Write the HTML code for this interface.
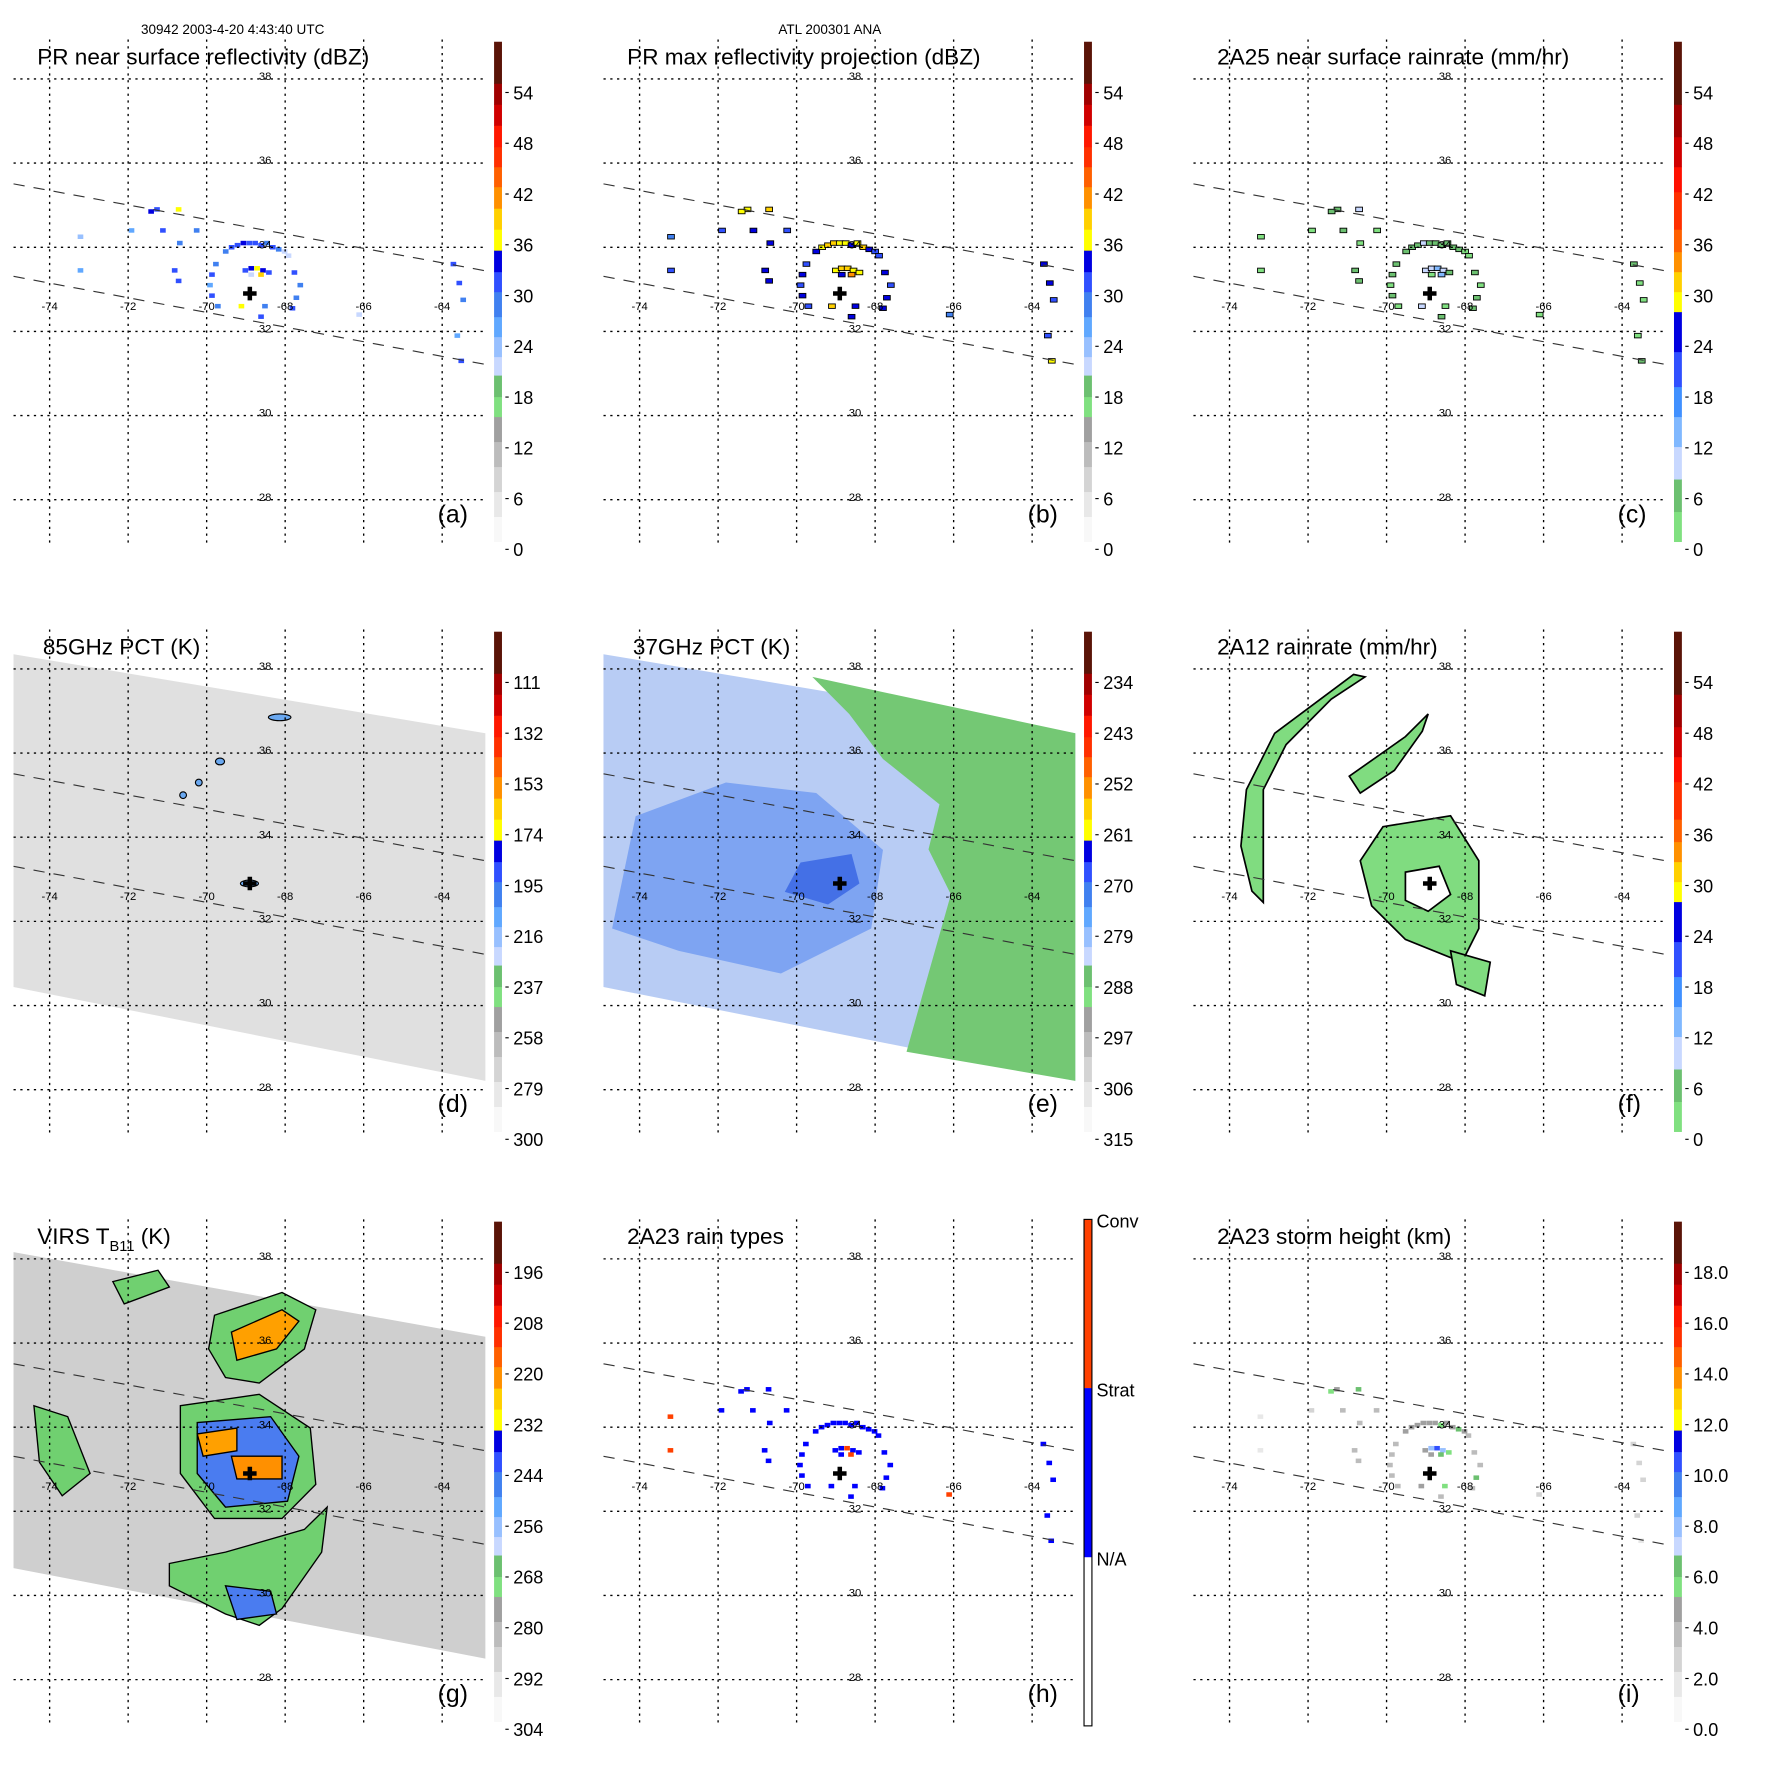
<!DOCTYPE html>
<html><head><meta charset="utf-8"><title>TRMM overpass panels</title>
<style>
html,body{margin:0;padding:0;background:#fff;}
svg{display:block;font-family:"Liberation Sans",sans-serif;}
</style></head>
<body>
<svg id="fig" xmlns="http://www.w3.org/2000/svg" width="1771" height="1771" viewBox="0 0 1570 1570">
<rect x="0" y="0" width="1570" height="1570" fill="#fff"/>
<text x="125" y="30" font-size="12">30942 2003-4-20 4:43:40 UTC</text>
<text x="690" y="30" font-size="12">ATL 200301 ANA</text>
</svg>
<script>
// ---- data ----
const lonTicks = [-74,-72,-70,-68,-66,-64];
const latTicks = [38,36,34,32,30,28];
const stormCenter = [-68.9, 32.9];
const cellLon = [-69.5,-69.35,-69.2,-69.05,-68.9,-68.75,-68.6,-68.45,-68.3,-68.15,-68.0,-67.9,
 -69.0,-68.85,-68.7,-68.55,-68.4,-68.85,-68.6,
 -69.75,-69.85,-69.9,-69.85,-69.7,
 -67.75,-67.6,-67.7,-67.8,
 -69.1,-68.6,-68.5,
 -71.25,-71.1,-70.67,-70.8,-70.24,-71.4,-71.9,-73.2,-73.2,-70.7,-70.7,
 -63.7,-63.55,-63.45,-66.1,-63.5,-63.6];
const cellLat = [33.9,34.0,34.05,34.1,34.1,34.1,34.05,34.1,34.0,33.95,33.9,33.8,
 33.45,33.5,33.5,33.45,33.4,33.35,33.35,
 33.6,33.35,33.1,32.85,32.6,
 33.4,33.1,32.8,32.55,
 32.6,32.35,32.6,
 34.9,34.4,34.1,33.45,34.4,34.85,34.4,34.25,33.45,33.2,34.9,
 33.6,33.15,32.75,32.4,31.3,31.9];
const cellDbz = [28,31,30,33,32,31,30,29,32,28,20,22, 32,34,37,33,30,20,38, 28,31,26,30,27, 30,27,29,31, 36,30,28, 32,30,28,31,29,33,26,24,25,31,37, 31,30,29,20,32,26];
const cellMaxDbz = [33,36,38,39,37,35,34,36,38,33,30,30, 36,38,40,37,35,34,41, 32,34,31,33,32, 34,32,33,34, 38,34,33, 35,34,33,34,32,36,31,29,30,34,38, 34,33,32,28,35,30];
const cellRain = [4,6,5,8,7,5,4,5,7,4,2,2, 9,10,12,8,6,3,14, 4,5,3,4,3, 4,3,4,5, 8,4,3, 5,4,3,5,3,6,2,2,2,4,9, 4,3,3,1,5,2];
const cellType = [1,1,1,1,1,1,1,1,1,1,1,1, 1,1,2,1,1,1,2, 1,1,1,1,1, 1,1,1,1, 1,1,1, 1,1,1,1,1,1,1,2,2,1,1, 1,1,1,2,1,1];
const cellHeight = [4.2,4.5,4.8,4.6,4.4,4.3,5.6,4.5,4.6,5.8,4.2,3.8, 4.5,8,10.5,7.5,5.6,4.8,6, 3.5,3.8,3.2,3.6,3.0, 3.4,3.2,5.8,3.5, 4.4,3.8,5.6, 4.0,3.6,3.2,3.5,3.0,5.6,2.5,1.5,1.5,3.2,5.8, 2.5,2.8,2.2,2.5,1.5,2.0];
const ticksA = ['0','6','12','18','24','30','36','42','48','54'];
const ticksD = ['300','279','258','237','216','195','174','153','132','111'];
const ticksE = ['315','306','297','288','279','270','261','252','243','234'];
const ticksG = ['304','292','280','268','256','244','232','220','208','196'];
const ticksI = ['0.0','2.0','4.0','6.0','8.0','10.0','12.0','14.0','16.0','18.0'];
const ticksH = ['N/A','Strat','Conv'];
const swathLon = [-74.92,-62.9,-62.9,-74.92];
const swathLat = [38.35,36.47,28.21,30.44];
const swathGLat = [38.16,36.15,28.5,30.65];
const e_greenLon = [-69.6,-62.9,-62.9,-67.2,-66.64,-66.07,-66.64,-66.36,-67.8,-68.66];
const e_greenLat = [37.81,36.47,28.21,28.9,30.76,32.64,33.71,34.78,35.86,36.93];
const e_blueLon = [-74.1,-71.8,-69.5,-67.8,-68.1,-70.4,-73,-74.7];
const e_blueLat = [34.5,35.3,35.05,33.7,31.83,30.76,31.3,31.83];
const e_coreLon = [-69.9,-68.6,-68.4,-69.2,-70.3];
const e_coreLat = [33.4,33.6,32.9,32.4,32.7];
const f_arcLon = [-70.84,-72.85,-73.57,-73.71,-73.43,-73.14,-73.14,-73.14,-72.56,-71.41,-70.55];
const f_arcLat = [37.87,36.47,35.13,33.79,32.72,32.45,33.52,35.13,36.2,37.28,37.81];
const f_ringLon = [-70.09,-68.37,-67.65,-67.65,-68.08,-69.52,-70.38,-70.67];
const f_ringLat = [34.25,34.51,33.44,31.83,31.03,31.57,32.37,33.44];
const f_holeLon = [-69.52,-68.66,-68.37,-68.94,-69.52];
const f_holeLat = [33.17,33.31,32.64,32.24,32.5];
const f_bandLon = [-70.95,-69.52,-68.94,-69.09,-69.8,-70.67];
const f_bandLat = [35.45,36.39,36.93,36.52,35.59,35.05];
const f_tailLon = [-68.37,-67.36,-67.5,-68.22];
const f_tailLat = [31.3,31.03,30.23,30.5];
const g_polys = [
 {c:'#70d070', lon:[-69.8,-68.08,-67.22,-67.51,-68.66,-69.52,-69.95], lat:[36.66,37.2,36.79,35.86,35.05,35.18,35.86]},
 {c:'#ffa000', lon:[-69.37,-68.08,-67.65,-68.22,-69.23], lat:[36.26,36.79,36.52,35.86,35.59]},
 {c:'#70d070', lon:[-70.67,-68.66,-67.36,-67.22,-68.08,-69.8,-70.67], lat:[34.51,34.78,33.98,32.64,31.83,31.83,32.9]},
 {c:'#4a7cf0', lon:[-70.24,-68.37,-67.65,-67.94,-69.52,-70.24], lat:[34.11,34.25,33.31,32.24,32.1,32.9]},
 {c:'#ffa000', lon:[-70.24,-69.23,-69.23,-70.09], lat:[33.84,33.98,33.44,33.31]},
 {c:'#ff9000', lon:[-69.37,-68.08,-68.08,-69.23], lat:[33.31,33.31,32.77,32.77]},
 {c:'#70d070', lon:[-70.95,-69.52,-67.51,-66.93,-67.07,-68.08,-68.66,-69.52,-70.95], lat:[30.76,31.03,31.57,32.1,31.03,29.69,29.29,29.56,30.23]},
 {c:'#4a7cf0', lon:[-69.52,-68.37,-68.22,-69.23], lat:[30.23,30.1,29.56,29.43]},
 {c:'#70d070', lon:[-74.4,-73.54,-72.97,-73.68,-74.26], lat:[34.51,34.25,32.9,32.37,33.17]},
 {c:'#70d070', lon:[-72.39,-71.24,-70.95,-72.1], lat:[37.46,37.73,37.33,36.93]}
];
const d_blobLon = [-68.91,-68.14,-69.66,-70.2,-70.6];
const d_blobLat = [32.9,36.85,35.8,35.3,35.0];
const d_blobRx = [8,10,4,3,3];

const cmapA = [[0,.05,'#f8f8f8'],[.05,.1,'#e8e8e8'],[.1,.15,'#d4d4d4'],[.15,.2,'#bcbcbc'],[.2,.25,'#a0a0a0'],[.25,.29,'#80e080'],[.29,.333,'#6cc070'],[.333,.37,'#c8d8ff'],[.37,.41,'#98c0ff'],[.41,.45,'#60a8ff'],[.45,.5,'#4080f0'],[.5,.54,'#3050ff'],[.54,.583,'#0000e0'],[.583,.625,'#ffff00'],[.625,.667,'#ffd000'],[.667,.71,'#ff9000'],[.71,.75,'#ff6000'],[.75,.79,'#ff3000'],[.79,.833,'#ff1800'],[.833,.875,'#d00000'],[.875,.917,'#a00000'],[.917,1,'#5a1408']];
const cmapC = [[0,.06,'#80e080'],[.06,.125,'#6cc070'],[.125,.19,'#c8d8ff'],[.19,.25,'#80b8ff'],[.25,.31,'#4090ff'],[.31,.38,'#3050ff'],[.38,.46,'#0000e0'],[.46,.5,'#ffff00'],[.5,.54,'#ffd000'],[.54,.58,'#ff9000'],[.58,.625,'#ff6000'],[.625,.7,'#ff3000'],[.7,.75,'#ff1000'],[.75,.81,'#d00000'],[.81,.875,'#a00000'],[.875,1,'#5a1408']];
const cmapH = [[0,.333,'#ffffff'],[.333,.667,'#0000ff'],[.667,1,'#ff4000']];

const NS='http://www.w3.org/2000/svg';
const svg=document.getElementById('fig');
function mk(tag, attrs, parent){ const e=document.createElementNS(NS,tag); for(const k in attrs) e.setAttribute(k,attrs[k]); (parent||svg).appendChild(e); return e; }
function colorOf(cmap,f){ f=Math.max(0,Math.min(0.999,f)); for(const b of cmap){ if(f>=b[0]&&f<b[1]) return b[2]; } return cmap[cmap.length-1][2]; }
function proj(p,lon,lat){ return [p.ox+44+(lon+74)*34.8, p.oy+70+(38-lat)*37.3]; }
function pts(p,lons,lats){ return lons.map((l,i)=>proj(p,l,lats[i]).join(',')).join(' '); }

const panels=[
 {id:'a',ox:0,oy:0,title:'PR near surface reflectivity (dBZ)',tx:33,cmap:cmapA,ticks:ticksA},
 {id:'b',ox:523,oy:0,title:'PR max reflectivity projection (dBZ)',tx:33,cmap:cmapA,ticks:ticksA},
 {id:'c',ox:1046,oy:0,title:'2A25 near surface rainrate (mm/hr)',tx:33,cmap:cmapC,ticks:ticksA},
 {id:'d',ox:0,oy:523,title:'85GHz PCT (K)',tx:38,cmap:cmapA,ticks:ticksD},
 {id:'e',ox:523,oy:523,title:'37GHz PCT (K)',tx:38,cmap:cmapA,ticks:ticksE},
 {id:'f',ox:1046,oy:523,title:'2A12 rainrate (mm/hr)',tx:33,cmap:cmapC,ticks:ticksA},
 {id:'g',ox:0,oy:1046,title:'VIRS',tx:33,cmap:cmapA,ticks:ticksG},
 {id:'h',ox:523,oy:1046,title:'2A23 rain types',tx:33,cmap:cmapH,ticks:ticksH},
 {id:'i',ox:1046,oy:1046,title:'2A23 storm height (km)',tx:33,cmap:cmapA,ticks:ticksI}
];

function drawCells(p,g,vals,scaleMax,cmap,stroke){
  for(let i=0;i<cellLon.length;i++){
    const [x,y]=proj(p,cellLon[i],cellLat[i]);
    const r=mk('rect',{x:x-3,y:y-2,width:stroke?6:5,height:stroke?4:4,fill:colorOf(cmap,vals[i]/scaleMax),stroke:stroke||'none','stroke-width':stroke?0.8:0},g);
    
    
  }
}

panels.forEach(p=>{
  const g=mk('g',{});
  
  
  if(p.id==='d'||p.id==='e'||p.id==='g'){
    const sw=mk('polygon',{points:pts(p,swathLon,p.id==='g'?swathGLat:swathLat),fill:p.id==='e'?'#b8ccf4':(p.id==='g'?'#cfcfcf':'#e0e0e0')},g);
    
    
  }
  if(p.id==='e'){
    const b=mk('polygon',{points:pts(p,e_blueLon,e_blueLat),fill:'#7ea4f2'},g);
    
    
    const c=mk('polygon',{points:pts(p,e_coreLon,e_coreLat),fill:'#4470e6'},g);
    
    
    const gr=mk('polygon',{points:pts(p,e_greenLon,e_greenLat),fill:'#74c874'},g);
    
    
  }
  if(p.id==='d'){
    for(let i=0;i<d_blobLon.length;i++){
      const [x,y]=proj(p,d_blobLon[i],d_blobLat[i]);
      const el=mk('ellipse',{cx:x,cy:y,rx:d_blobRx[i],ry:3,fill:'#6aa8f0',stroke:'#000','stroke-width':1},g);
      
      
    }
  }
  if(p.id==='f'){
    [[f_arcLon,f_arcLat,'#80dc80'],[f_ringLon,f_ringLat,'#80dc80'],[f_holeLon,f_holeLat,'#ffffff'],[f_bandLon,f_bandLat,'#80dc80'],[f_tailLon,f_tailLat,'#80dc80']].forEach(a=>{
      const el=mk('polygon',{points:pts(p,a[0],a[1]),fill:a[2],stroke:'#000','stroke-width':1.5},g);
      
      
    });
  }
  if(p.id==='g'){
    g_polys.forEach(q=>{
      const el=mk('polygon',{points:pts(p,q.lon,q.lat),fill:q.c,stroke:'#000','stroke-width':1.2},g);
      
      
    });
  }
  if(p.id==='a') drawCells(p,g,cellDbz,60,cmapA,null);
  if(p.id==='b') drawCells(p,g,cellMaxDbz,60,cmapA,'#000');
  if(p.id==='c') drawCells(p,g,cellRain,60,cmapC,'#000');
  if(p.id==='h') drawCells(p,g,cellType.map(t=>t===2?2.5:1.5),3,cmapH,null);
  if(p.id==='i') drawCells(p,g,cellHeight,20,cmapA,null);

  latTicks.forEach(lat=>{
    const y=proj(p,-74,lat)[1];
    const l=mk('line',{x1:p.ox+12,x2:p.ox+430,y1:y,y2:y,stroke:'#000','stroke-width':1.2,'stroke-dasharray':'2,4'},g);
    
    
    const t=mk('text',{x:p.ox+235,y:y+1,'font-size':10,'text-anchor':'middle'},g);
    t.textContent=String(lat);
    
    
  });
  lonTicks.forEach(lon=>{
    const x=proj(p,lon,38)[0];
    const l=mk('line',{x1:x,x2:x,y1:p.oy+35,y2:p.oy+485,stroke:'#000','stroke-width':1.2,'stroke-dasharray':'2,4'},g);
    
    
    const t=mk('text',{x:x,y:p.oy+275,'font-size':10,'text-anchor':'middle'},g);
    t.textContent=String(lon);
    
    
  });
  [[163,240],[245,323]].forEach(s=>{
    const l=mk('line',{x1:p.ox+12,y1:p.oy+s[0],x2:p.ox+430,y2:p.oy+s[1],stroke:'#333','stroke-width':1,'stroke-dasharray':'10,8'},g);
    
    
  });
  const [cx,cy]=proj(p,stormCenter[0],stormCenter[1]);
  const cr=mk('path',{d:`M${cx-6},${cy}H${cx+6}M${cx},${cy-6}V${cy+6}`,stroke:'#000','stroke-width':4},g);
  
  
  const tt=mk('text',{x:p.ox+p.tx,y:p.oy+57,'font-size':20},g);
  if(p.id==='g'){ tt.innerHTML='VIRS T<tspan font-size="13" dy="6">B11</tspan><tspan dy="-6"> (K)</tspan>'; }
  else tt.textContent=p.title;
  
  
  const lb=mk('text',{x:p.ox+388,y:p.oy+463,'font-size':22},g);
  lb.textContent='('+p.id+')';
  
  
  const cbx=p.ox+438;
  if(p.id==='h'){
    const top=p.oy+35, bot=p.oy+484, h=bot-top;
    p.cmap.forEach(b=>{
      const r=mk('rect',{x:cbx,y:bot-b[1]*h,width:7,height:(b[1]-b[0])*h,fill:b[2]},g);
      
      
    });
    const bd=mk('rect',{x:cbx,y:top,width:7,height:h,fill:'none',stroke:'#000','stroke-width':1},g);
    
    
    p.ticks.forEach((s,i)=>{
      const t=mk('text',{x:cbx+11,y:p.oy+342-i*150,'font-size':16},g);
      t.textContent=s;
      
      
    });
  } else {
    const top=p.oy+37, bot=p.oy+480, h=bot-top;
    p.cmap.forEach(b=>{
      const r=mk('rect',{x:cbx,y:bot-b[1]*h,width:7,height:(b[1]-b[0])*h+0.5,fill:b[2]},g);
      
      
    });
    p.ticks.forEach((s,i)=>{
      const y=p.oy+487-45*i;
      const tk=mk('line',{x1:cbx+10,x2:cbx+13,y1:y,y2:y,stroke:'#000','stroke-width':1},g);
      
      
      const t=mk('text',{x:cbx+17,y:y+6,'font-size':16},g);
      t.textContent=s;
      
      
    });
  }
});
</script>
</body></html>
